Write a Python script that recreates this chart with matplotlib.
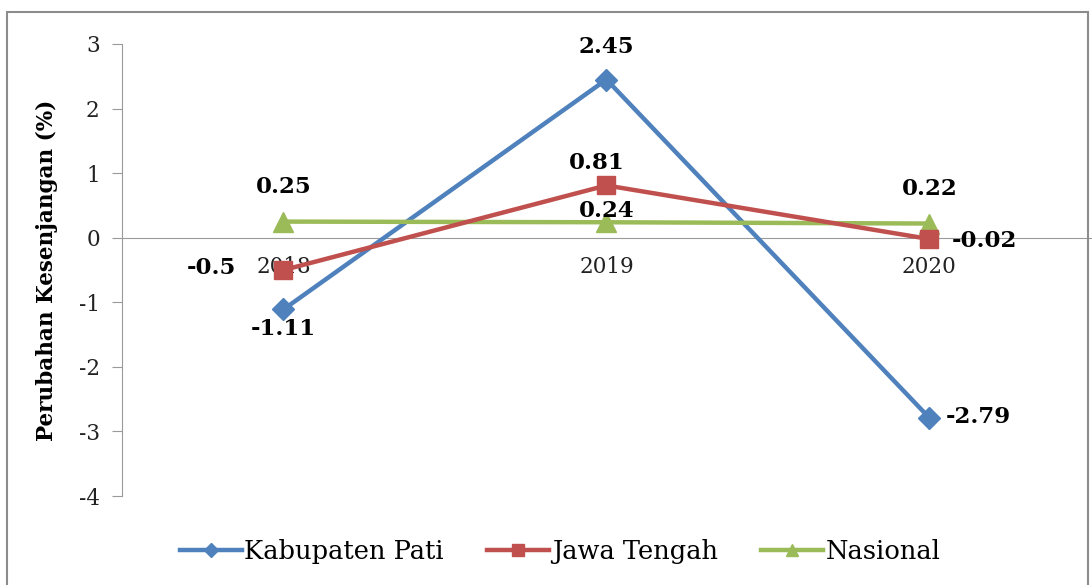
import matplotlib
matplotlib.use("Agg")
import matplotlib.pyplot as plt
from matplotlib.patches import Rectangle
from matplotlib.lines import Line2D

years = ["2018", "2019", "2020"]
kab_pati = [-1.11, 2.45, -2.79]
jawa_tengah = [-0.5, 0.81, -0.02]
nasional = [0.25, 0.24, 0.22]
series_names = ["Kabupaten Pati", "Jawa Tengah", "Nasional"]
y_ticks = [3, 2, 1, 0, -1, -2, -3, -4]

blue = "#4F81BD"
red = "#C0504D"
green = "#9BBB59"

fig = plt.figure(figsize=(10.92, 5.85), dpi=100)
ax = fig.add_axes([0.1117, 0.152, 0.8873, 0.7728])
fig.patches.append(Rectangle((0.0065, -0.01), 0.99, 0.99, transform=fig.transFigure,
                             fill=False, edgecolor="#8c8c8c", linewidth=1.5))

x = list(range(len(years)))
ax.plot(x, kab_pati, color=blue, lw=3.2, marker="D", ms=11, zorder=3, label=series_names[0])
ax.plot(x, nasional, color=green, lw=3.2, marker="^", ms=14, zorder=4, label=series_names[2])
ax.plot(x, jawa_tengah, color=red, lw=3.2, marker="s", ms=13, zorder=5, label=series_names[1])

for s in ["top", "right"]:
    ax.spines[s].set_visible(False)
ax.spines["bottom"].set_position(("data", 0))
ax.spines["bottom"].set_color("#9a9a9a")
ax.spines["left"].set_color("#9a9a9a")
ax.spines["bottom"].set_zorder(1)

ax.set_xlim(-0.5, 2.5)
ax.set_ylim(-4, 3)
ax.set_yticks(y_ticks)
ax.set_yticklabels([str(v) for v in y_ticks], family="DejaVu Serif", fontsize=15.5, color="#222222")
ax.set_xticks(x)
ax.set_xticklabels(years, family="DejaVu Serif", fontsize=15.5, color="#222222")
ax.tick_params(axis="x", length=0, pad=13)
ax.tick_params(axis="y", length=7, color="#9a9a9a", direction="out", pad=9)
for lbl in ax.get_xticklabels():
    lbl.set_zorder(10)

ax.set_ylabel("Perubahan Kesenjangan (%)", family="DejaVu Serif", fontweight="bold",
              fontsize=15.5)
ax.yaxis.set_label_coords(-0.066, 0.5)

lab = dict(family="DejaVu Serif", fontweight="bold", fontsize=16.5, color="black",
           textcoords="offset pixels", zorder=12)
# Kabupaten Pati
ax.annotate(f"{kab_pati[0]:.2f}", (x[0], kab_pati[0]), xytext=(0, -20), ha="center", va="center", **lab)
ax.annotate(f"{kab_pati[1]:.2f}", (x[1], kab_pati[1]), xytext=(0, 33), ha="center", va="center", **lab)
ax.annotate(f"{kab_pati[2]:.2f}", (x[2], kab_pati[2]), xytext=(16, 1), ha="left", va="center", **lab)
# Jawa Tengah
ax.annotate(f"{jawa_tengah[0]:.1f}", (x[0], jawa_tengah[0]), xytext=(-47, 2), ha="right", va="center", **lab)
ax.annotate(f"{jawa_tengah[1]:.2f}", (x[1], jawa_tengah[1]), xytext=(-10, 22), ha="center", va="center", **lab)
ax.annotate(f"{jawa_tengah[2]:.2f}", (x[2], jawa_tengah[2]), xytext=(22, -2), ha="left", va="center", **lab)
# Nasional
ax.annotate(f"{nasional[0]:.2f}", (x[0], nasional[0]), xytext=(0, 35), ha="center", va="center", **lab)
ax.annotate(f"{nasional[1]:.2f}", (x[1], nasional[1]), xytext=(0, 11), ha="center", va="center", **lab)
ax.annotate(f"{nasional[2]:.2f}", (x[2], nasional[2]), xytext=(0, 35), ha="center", va="center", **lab)

handles = [
    Line2D([], [], color=blue, lw=3.2, marker="D", ms=7),
    Line2D([], [], color=red, lw=3.2, marker="s", ms=9),
    Line2D([], [], color=green, lw=3.2, marker="^", ms=9),
]
fig.legend(handles, series_names, loc="center", bbox_to_anchor=(0.513, 0.058), ncol=3,
           frameon=False, prop={"family": "DejaVu Serif", "size": 18.5},
           handlelength=2.4, handletextpad=0.1, columnspacing=1.7)

fig.savefig("out.png", dpi=100)
